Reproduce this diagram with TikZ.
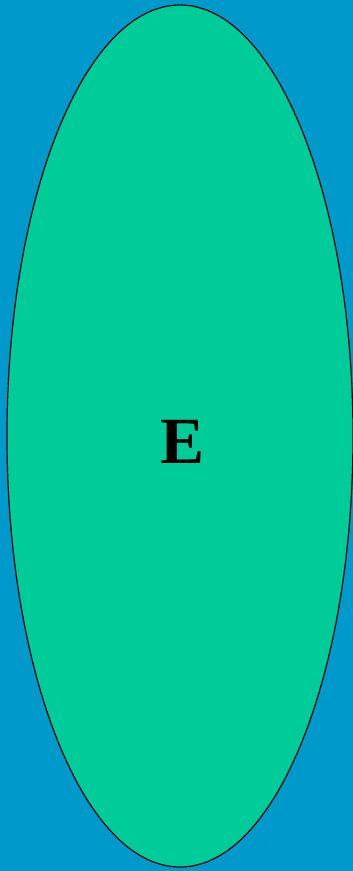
\documentclass[tikz,border=0pt]{standalone}
\usepackage{fontspec}
\setmainfont{Liberation Serif}
\usetikzlibrary{shapes.geometric}
\definecolor{skyblue}{RGB}{0,153,204}
\definecolor{mintgreen}{RGB}{0,204,153}
\tikzset{
  bg/.style={fill=skyblue, draw=none},
  blob/.style={ellipse, draw=black, fill=mintgreen, line width=1.2pt, inner sep=0pt},
  lbl/.style={font=\fontsize{66}{66}\selectfont\bfseries, text=black, inner sep=0pt},
}
\begin{document}
\begin{tikzpicture}[x=1pt,y=-1pt]
  \fill[bg] (0,0) rectangle (353,871);
  \useasboundingbox (0,0) rectangle (353,871);
  \node[blob, minimum width=346pt, minimum height=862pt] (set) at (180,436) {};
  \node[lbl] (setname) at (183,442) {E};
\end{tikzpicture}
\end{document}
